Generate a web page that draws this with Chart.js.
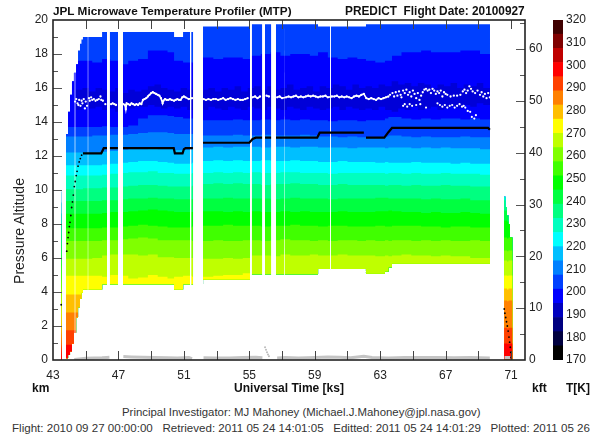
<!DOCTYPE html>
<html>
<head>
<meta charset="utf-8">
<title>JPL Microwave Temperature Profiler (MTP)</title>
<script src="https://cdn.jsdelivr.net/npm/chart.js@4"></script>
<style>
    body { margin: 0; background: #fff; }
    #page { position: relative; width: 590px; height: 438px; overflow: hidden; font-family: 'Liberation Sans', Arial, sans-serif; color: #222; }
    #page canvas { position: absolute; top: 0; }
    .label { position: absolute; white-space: pre; font-size: 12px; line-height: 14px; }
    .bold { font-weight: bold; color: #111; }
</style>
</head>
<body>
<div id="page">
    <canvas id="curtain" width="548" height="400" style="left:0"></canvas>
    <canvas id="colorbar" width="42" height="400" style="left:548px"></canvas>
    <div class="label bold" style="left:53px;top:4px;font-size:11.75px">JPL Microwave Temperature Profiler (MTP)</div>
    <div class="label bold" style="left:345px;top:4px;font-size:11.85px">PREDICT  Flight Date: 20100927</div>
    <div class="label" style="left:19px;top:231px;font-size:14px;transform:translate(-50%,-50%) rotate(-90deg)">Pressure Altitude</div>
    <div class="label bold" style="left:32px;top:381px">km</div>
    <div class="label bold" style="left:532px;top:381px">kft</div>
    <div class="label bold" style="left:566px;top:381px">T[K]</div>
    <div class="label" style="left:122px;top:405px;color:#333;font-size:11.4px">Principal Investigator: MJ Mahoney (Michael.J.Mahoney@jpl.nasa.gov)</div>
    <div class="label" style="left:12px;top:421px;color:#333;font-size:11.57px">Flight: 2010 09 27 00:00:00   Retrieved: 2011 05 24 14:01:05   Editted: 2011 05 24 14:01:29   Plotted: 2011 05 26</div>
</div>
<script>
// Axis ticks
const timeLabels = [43, 47, 51, 55, 59, 63, 67, 71];
const timeTicks = [45, 47, 49, 51, 53, 55, 57, 59, 61, 63, 65, 67, 69, 71];
const kmMajor = [2, 4, 6, 8, 10, 12, 14, 16, 18];
const kmMinor = [1, 3, 5, 7, 9, 11, 13, 15, 17, 19];
const kftMajor = [10, 20, 30, 40, 50, 60];
const kftMinor = [5, 15, 25, 35, 45, 55, 65];

// Colour bar
const tempEdges = [170, 176.25, 182.5, 188.75, 195, 201.25, 207.5, 213.75, 220, 226.25, 232.5, 238.75,
    245, 251.25, 257.5, 263.75, 270, 276.25, 282.5, 288.75, 295, 301.25, 307.5, 313.75, 320];
const tempColors = ['#000000', '#00003f', '#000080', '#0000bf', '#0000ff', '#0040ff', '#0080ff', '#00bfff',
    '#00ffff', '#00ffbf', '#00ff80', '#00ff40', '#00ff00', '#40ff00', '#80ff00', '#bfff00',
    '#ffff00', '#ffbf00', '#ff8000', '#ff4000', '#ff0000', '#bf0000', '#800000', '#3f0000'];

// Curtain columns: strip + gap + climb (11), cruise (44), gap + descent (5 + 1), last entry closes the last column
const colTimes = [43.49, 43.55, 43.79, 43.92, 44.04, 44.16, 44.28, 44.41, 44.53, 44.65, 44.74,
    44.83, 45.4, 46.0, 46.5, 47.0, 47.6, 48.2, 48.8, 49.4, 50.0, 50.4, 50.95, 51.5,
    52.17, 52.8, 53.4, 54.0, 54.6,
    55.1, 55.7, 56.3, 56.9, 57.5, 58.1, 58.7,
    59.2, 59.8, 60.4, 61.0, 61.6,
    62.13, 62.7, 63.29, 63.5, 63.72,
    64.3, 64.9, 65.5, 66.1, 66.7, 67.3, 67.9, 68.5, 69.1,
    69.71, 70.57, 70.66, 70.75, 70.84, 70.93, 71.09];

const curtainBottom = [0.03, null, 0.1, 0.3, 0.5, 0.95, 1.6, 2.5, 3.1, 3.6, 3.95,
    4.15, 4.15, 4.45, 4.45, 4.45, 4.45, 4.45, 4.45, 4.45, 4.45, 4.15, 4.45, 4.45,
    4.73, 4.73, 4.73, 4.73, 4.73,
    5.05, 5.05, 5.05, 5.05, 5.05, 5.05, 5.05,
    5.35, 5.35, 5.35, 5.35, 5.35,
    5.08, 5.08, 5.2, 5.45, 5.66,
    5.66, 5.66, 5.66, 5.66, 5.66, 5.66, 5.66, 5.66, 5.66,
    null, 0.05, 0.05, 0.05, 0.05, 0.05];

const curtainTop = [10.1, null, 13.3, 14.6, 15.6, 16.4, 16.9, 17.4, 18.2, 18.6, 18.85,
    19.0, 19.0, 19.3, 19.3, 19.3, 19.3, 19.3, 19.3, 19.3, 19.3, 19.0, 19.3, 19.3,
    19.62, 19.62, 19.62, 19.62, 19.62,
    19.75, 19.75, 19.75, 19.75, 19.75, 19.75, 19.75,
    19.62, 19.62, 19.62, 19.62, 19.62,
    19.75, 19.75, 19.75, 19.75, 19.75,
    19.75, 19.75, 19.75, 19.75, 19.75, 19.75, 19.75, 19.75, 19.75,
    null, 9.6, 9.0, 8.5, 8.0, 7.2];

// Top edge of each temperature band, km
const redTop = [0.9, 0, 0.9, 0.9, 0.9, 0.9, 0.9, 0.9, 0.9, 0.9, 0.9,
    0, 0, 0, 0, 0, 0, 0, 0, 0, 0, 0, 0, 0,
    0, 0, 0, 0, 0,
    0, 0, 0, 0, 0, 0, 0,
    0, 0, 0, 0, 0,
    0, 0, 0, 0, 0,
    0, 0, 0, 0, 0, 0, 0, 0, 0,
    0, 0.97, 0.97, 0.95, 0.95, 0.97];
const flameTop = [1.75, 0, 1.75, 1.75, 1.75, 1.75, 1.75, 1.75, 1.75, 1.75, 1.75,
    0, 0, 0, 0, 0, 0, 0, 0, 0, 0, 0, 0, 0,
    0, 0, 0, 0, 0,
    0, 0, 0, 0, 0, 0, 0,
    0, 0, 0, 0, 0,
    0, 0, 0, 0, 0,
    0, 0, 0, 0, 0, 0, 0, 0, 0,
    0, 1.9, 1.9, 1.85, 1.9, 1.9];
const orangeTop = [2.8, 0, 2.8, 2.8, 2.8, 2.8, 2.8, 2.8, 2.8, 2.8, 2.8,
    0, 0, 0, 0, 0, 0, 0, 0, 0, 0, 0, 0, 0,
    0, 0, 0, 0, 0,
    0, 0, 0, 0, 0, 0, 0,
    0, 0, 0, 0, 0,
    0, 0, 0, 0, 0,
    0, 0, 0, 0, 0, 0, 0, 0, 0,
    0, 3.5, 3.5, 3.45, 3.5, 3.5];
const amberTop = [3.85, 0, 3.85, 3.85, 3.85, 3.85, 3.85, 3.85, 3.85, 3.85, 3.85,
    0, 0, 0, 0, 0, 0, 0, 0, 0, 0, 0, 0, 0,
    0, 0, 0, 0, 0,
    0, 0, 0, 0, 0, 0, 0,
    0, 0, 0, 0, 0,
    0, 0, 0, 0, 0,
    0, 0, 0, 0, 0, 0, 0, 0, 0,
    0, 4.2, 4.2, 4.15, 4.2, 4.2];
const yellowTop = [4.9, 0, 4.95, 4.95, 4.95, 4.95, 4.95, 4.95, 4.95, 4.95, 4.95,
    4.95, 4.95, 4.9, 5.0, 4.95, 4.8, 4.85, 5.0, 4.9, 4.8, 4.9, 4.95, 4.9,
    4.9, 4.95, 5.0, 5.0, 5.1,
    0, 0, 0, 0, 0, 0, 0,
    0, 0, 0, 0, 0,
    0, 0, 0, 0, 0,
    0, 0, 0, 0, 0, 0, 0, 0, 0,
    0, 4.97, 4.97, 4.95, 4.97, 4.97];
const limeTop = [5.9, 0, 5.95, 5.95, 5.95, 5.95, 5.95, 5.95, 5.95, 5.95, 5.95,
    5.95, 6.0, 6.15, 6.2, 6.2, 6.2, 6.15, 6.2, 6.05, 6.05, 6.0, 6.0, 6.0,
    5.95, 5.95, 6.0, 5.95, 6.0,
    6.15, 6.15, 6.1, 6.2, 6.15, 6.15, 6.2,
    6.15, 6.15, 6.2, 6.15, 6.15,
    6.15, 6.1, 6.15, 6.1, 6.15,
    6.2, 6.15, 6.15, 6.1, 6.15, 6.1, 6.1, 6.0, 6.0,
    0, 5.85, 5.85, 5.8, 5.85, 5.85];
const chartreuseTop = [7.0, 0, 7.0, 7.0, 7.0, 7.0, 7.0, 7.0, 7.0, 7.0, 7.0,
    7.0, 7.0, 7.05, 7.05, 7.1, 7.15, 7.2, 7.15, 7.05, 7.05, 7.05, 7.05, 7.0,
    7.0, 7.05, 7.0, 7.0, 7.05,
    7.05, 7.0, 7.05, 7.1, 7.05, 7.05, 7.0,
    7.05, 7.0, 7.05, 7.05, 7.0,
    7.05, 7.0, 7.05, 7.0, 7.05,
    7.05, 7.0, 7.05, 7.0, 7.05, 7.0, 7.0, 7.05, 7.0,
    0, 6.44, 6.44, 6.4, 6.44, 6.44];
const leafTop = [7.75, 0, 7.75, 7.75, 7.75, 7.75, 7.75, 7.75, 7.75, 7.75, 7.75,
    7.75, 7.75, 7.8, 7.8, 7.85, 7.9, 7.95, 7.9, 7.85, 7.8, 7.8, 7.8, 7.85,
    7.9, 7.9, 7.95, 7.9, 7.9,
    7.9, 7.85, 7.9, 7.9, 7.95, 7.9, 7.9,
    7.85, 7.9, 7.9, 7.85, 7.85,
    7.85, 7.9, 7.85, 7.85, 7.9,
    7.9, 7.9, 7.85, 7.85, 7.8, 7.85, 7.85, 7.8, 7.8,
    0, 7.2, 7.2, 7.15, 7.2, 7.2];
const greenTop = [8.6, 0, 8.6, 8.6, 8.6, 8.6, 8.6, 8.6, 8.6, 8.6, 8.6,
    8.6, 8.6, 8.65, 8.7, 8.7, 8.75, 8.8, 8.85, 8.8, 8.75, 8.7, 8.7, 8.7,
    8.75, 8.75, 8.7, 8.75, 8.7,
    8.75, 8.7, 8.7, 8.75, 8.7, 8.75, 8.7,
    8.7, 8.7, 8.75, 8.7, 8.7,
    8.7, 8.75, 8.75, 8.8, 8.75,
    8.7, 8.7, 8.65, 8.7, 8.65, 8.65, 8.7, 8.65, 8.6,
    0, 8.2, 8.2, 8.15, 8.2, 8.2];
const springTop = [9.35, 0, 9.35, 9.35, 9.35, 9.35, 9.35, 9.35, 9.35, 9.35, 9.35,
    9.35, 9.35, 9.4, 9.4, 9.45, 9.5, 9.5, 9.55, 9.5, 9.5, 9.45, 9.45, 9.45,
    9.5, 9.5, 9.55, 9.5, 9.5,
    9.5, 9.5, 9.45, 9.5, 9.55, 9.5, 9.5,
    9.5, 9.45, 9.5, 9.5, 9.5,
    9.5, 9.55, 9.55, 9.5, 9.5,
    9.5, 9.5, 9.45, 9.5, 9.45, 9.45, 9.5, 9.4, 9.4,
    0, 8.8, 8.8, 8.75, 8.8, 8.8];
const mintTop = [10.05, 0, 10.05, 10.05, 10.05, 10.05, 10.05, 10.05, 10.05, 10.05, 10.05,
    10.1, 10.1, 10.15, 10.15, 10.2, 10.25, 10.3, 10.3, 10.25, 10.2, 10.2, 10.2, 10.25,
    10.35, 10.4, 10.35, 10.4, 10.35,
    10.35, 10.3, 10.35, 10.35, 10.4, 10.35, 10.35,
    10.3, 10.3, 10.35, 10.3, 10.3,
    10.3, 10.3, 10.25, 10.3, 10.3,
    10.25, 10.3, 10.25, 10.25, 10.3, 10.25, 10.25, 10.2, 10.2,
    0, 9.4, 9.4, 9.35, 9.4, 9.4];
const aquaTop = [10.85, 0, 10.85, 10.85, 10.85, 10.85, 10.85, 10.85, 10.85, 10.85, 10.85,
    10.85, 10.85, 10.9, 10.95, 11.0, 11.05, 11.05, 11.1, 11.0, 11.0, 10.95, 10.95, 11.0,
    11.0, 11.05, 11.0, 11.05, 11.0,
    11.05, 11.0, 11.0, 11.05, 11.05, 11.0, 11.0,
    11.0, 10.95, 11.0, 11.0, 11.0,
    11.0, 11.0, 10.95, 11.0, 11.0,
    10.95, 11.0, 10.95, 10.95, 11.0, 10.95, 10.95, 10.95, 10.9,
    0, 10.85, 10.85, 10.85, 10.85, 10.85];
const cyanTop = [11.45, 0, 11.45, 11.45, 11.45, 11.45, 11.45, 11.45, 11.45, 11.45, 11.45,
    11.45, 11.45, 11.5, 11.55, 11.6, 11.65, 11.7, 11.7, 11.65, 11.6, 11.55, 11.55, 11.6,
    11.7, 11.75, 11.7, 11.75, 11.7,
    11.7, 11.75, 11.7, 11.7, 11.75, 11.7, 11.7,
    11.65, 11.65, 11.7, 11.65, 11.65,
    11.65, 11.6, 11.65, 11.6, 11.6,
    11.6, 11.65, 11.6, 11.6, 11.6, 11.55, 11.6, 11.55, 11.55,
    0, 11.45, 11.45, 11.45, 11.45, 11.45];
const skyTop = [12.2, 0, 12.2, 12.2, 12.2, 12.2, 12.2, 12.2, 12.2, 12.2, 12.2,
    12.2, 12.2, 12.25, 12.3, 12.35, 12.4, 12.4, 12.45, 12.4, 12.4, 12.35, 12.35, 12.4,
    12.5, 12.55, 12.5, 12.55, 12.55,
    12.55, 12.5, 12.55, 12.55, 12.5, 12.55, 12.55,
    12.5, 12.5, 12.5, 12.45, 12.5,
    12.5, 12.5, 12.45, 12.5, 12.5,
    12.5, 12.45, 12.5, 12.45, 12.5, 12.45, 12.45, 12.45, 12.4,
    0, 12.2, 12.2, 12.2, 12.2, 12.2];
const azureTop = [13.15, 0, 13.15, 13.15, 13.15, 13.15, 13.15, 13.15, 13.15, 13.15, 13.15,
    13.15, 13.2, 13.2, 13.25, 13.25, 13.3, 13.35, 13.4, 13.4, 13.35, 13.3, 13.3, 13.3,
    13.2, 13.2, 13.2, 13.25, 13.2,
    13.2, 13.25, 13.2, 13.2, 13.2, 13.25, 13.2,
    13.15, 13.15, 13.1, 13.15, 13.1,
    13.1, 13.1, 13.15, 13.2, 13.2,
    13.15, 13.1, 13.15, 13.1, 13.1, 13.1, 13.15, 13.1, 13.1,
    0, 13.15, 13.15, 13.15, 13.15, 13.15];
const royalTop = [13.7, 0, 13.7, 13.7, 13.7, 13.7, 13.7, 13.7, 13.7, 13.7, 13.7,
    13.7, 13.7, 13.75, 13.7, 13.7, 13.8, 14.2, 14.4, 14.4, 14.35, 14.3, 14.2, 14.2,
    14.1, 14.1, 14.1, 14.15, 14.1,
    14.1, 14.15, 14.1, 14.15, 14.1, 14.15, 14.1,
    14.1, 14.05, 14.1, 14.1, 14.05,
    14.1, 14.1, 14.2, 14.3, 14.3,
    14.2, 14.15, 14.2, 14.15, 14.2, 14.2, 14.15, 14.2, 14.15,
    0, 13.7, 13.7, 13.7, 13.7, 13.7];
const blueTop = [17.6, 0, 17.6, 17.6, 17.6, 17.6, 17.6, 17.6, 17.6, 17.6, 17.6,
    17.6, 17.5, 17.7, 17.6, 17.4, 17.6, 17.7, 18.2, 18.2, 18.1, 17.6, 17.5, 17.5,
    17.8, 17.7, 17.8, 17.8, 17.7,
    17.9, 18.0, 18.1, 17.9, 18.0, 18.0, 17.9,
    18.1, 17.8, 17.7, 17.8, 17.7,
    17.6, 17.5, 17.6, 17.6, 17.9,
    18.1, 18.1, 18.2, 18.1, 18.1, 18.1, 18.2, 18.2, 18.0,
    0, 17.6, 17.6, 17.6, 17.6, 17.6];

// Band tops from warm to cold, the last band reaches the curtain top
const bandTops = [redTop, flameTop, orangeTop, amberTop, yellowTop, limeTop, chartreuseTop, leafTop, greenTop,
    springTop, mintTop, aquaTop, cyanTop, skyTop, azureTop, royalTop, blueTop, curtainTop];
const bandColors = ['#ff0000', '#ff4000', '#ff8000', '#ffbf00', '#ffff00', '#bfff00', '#80ff00', '#40ff00', '#00ff00',
    '#00ff40', '#00ff80', '#00ffbf', '#00ffff', '#00bfff', '#0080ff', '#0040ff', '#0000ff', '#0040ff'];

// Colder patches around the tropopause
const coldTimes = [44.4, 44.8, 45.2, 45.6, 46.0, 46.4, 46.8, 47.2, 47.6, 48.0,
    48.4, 48.8, 49.2, 49.6, 50.0, 50.4, 50.8, 51.2, 51.6, 52.2,
    52.5, 52.9, 53.3, 53.7, 54.1, 54.5, 54.9, 55.3, 55.7, 56.1,
    56.5, 56.9, 57.3, 57.7, 58.1, 58.5, 58.9, 59.3, 59.7, 60.1,
    60.5, 60.9, 61.3, 61.7, 62.1, 62.5, 62.9, 63.3, 63.7, 64.1,
    64.5, 64.9, 65.3, 65.7, 66.1, 66.5, 66.9, 67.3, 67.7, 68.1,
    68.5, 68.9, 69.3, 69.71];
const coldTop = [15.9, 16.0, 15.8, 16.0, 15.9, 15.8, 16.0, 15.7, 15.9, 15.8,
    15.9, 16.1, 16.2, 16.0, 15.9, 15.8, 16.0, 15.9, 15.8, 15.9,
    16.0, 15.8, 16.0, 15.9, 16.1, 15.8, 16.0, 16.1, 15.9, 16.1,
    15.9, 16.0, 16.2, 15.9, 16.0, 16.1, 15.8, 16.1, 16.0, 16.2,
    16.1, 15.9, 16.2, 16.0, 16.1, 16.0, 16.2, 16.1, 16.4, 16.2,
    16.3, 16.1, 16.3, 16.2, 16.0, 16.2, 16.1, 16.3, 16.0, 16.2,
    16.1, 16.3, 16.0];
const coldBottom = [14.7, 14.9, 14.8, 14.9, 14.7, 14.8, 14.6, 14.9, 14.8, 14.9,
    14.9, 15.0, 14.9, 14.8, 14.9, 14.8, 14.9, 14.7, 14.8, 14.7,
    14.9, 14.8, 14.7, 14.9, 14.8, 14.7, 14.9, 14.8, 14.7, 14.9,
    14.8, 14.7, 14.9, 14.8, 14.7, 14.9, 14.8, 14.7, 14.8, 14.9,
    14.7, 14.9, 14.8, 14.7, 14.8, 14.7, 14.9, 14.7, 14.6, 14.8,
    14.7, 14.9, 14.7, 14.8, 14.9, 14.7, 14.8, 14.9, 14.8, 15.0,
    14.9, 15.1, 15.0];

// Data dropouts
const gapStart = [44.31, 45.11, 46.30, 46.97, 51.37, 51.56, 55.04, 55.78, 56.33, 57.12, 59.93];
const gapEnd = [44.38, 45.17, 46.48, 47.28, 51.47, 52.17, 55.16, 55.96, 56.63, 57.18, 59.99];

// Tropopause
const tropoTimes = [44.35, 44.42, 44.5, 44.55, 44.6, 44.68, 44.75, 44.8, 44.88, 44.95,
    45.0, 45.08, 45.2, 45.25, 45.33, 45.4, 45.5, 45.6, 45.7, 45.8,
    45.9, 45.95, 46.05, 46.2, 46.55, 46.65, 46.75, 46.85, 47.3, 47.4,
    47.45, 47.5, 47.6, 47.7, 47.8, 47.9, 48.0, 48.1, 48.2, 48.3,
    48.4, 48.5, 48.6, 48.7, 48.8, 48.9, 49.0, 49.1, 49.2, 49.3,
    49.4, 49.5, 49.6, 49.7, 49.75, 49.85, 49.95, 50.05, 50.15, 50.25,
    50.4, 50.5, 50.6, 50.7, 50.8, 50.9, 51.0, 51.1, 51.3, 51.5,
    52.2, 52.35, 52.5, 52.65, 52.8, 52.95, 53.1, 53.25, 53.4, 53.55,
    53.7, 53.85, 54.0, 54.15, 54.3, 54.45, 54.6, 54.75, 54.9, 55.2,
    55.35, 55.5, 55.65, 56.05, 56.2, 56.7, 56.85, 57.0, 57.25, 57.4,
    57.55, 57.7, 57.85, 58.0, 58.15, 58.3, 58.45, 58.6, 58.75, 58.9,
    59.05, 59.2, 59.35, 59.5, 59.65, 59.8, 60.05, 60.2, 60.35, 60.5,
    60.65, 60.8, 60.95, 61.1, 61.25, 61.4, 61.55, 61.7, 61.85, 62.0,
    62.15, 62.3, 62.45, 62.6, 62.75, 62.9, 63.05, 63.2, 63.35, 63.5,
    63.6, 63.75, 63.85, 63.95, 64.05, 64.15, 64.25, 64.3, 64.4, 64.5,
    64.6, 64.7, 64.8, 64.9, 65.0, 65.1, 65.2, 65.3, 65.4, 65.5,
    65.6, 65.7, 65.8, 65.9, 66.0, 66.1, 66.2, 66.3, 66.4, 66.5,
    66.6, 66.7, 66.8, 66.9, 67.0, 67.1, 67.3, 67.5, 67.7, 67.9,
    68.05, 68.15, 68.25, 68.35, 68.45, 68.55, 68.65, 68.8, 68.95, 69.1,
    69.2, 69.3, 69.4, 69.5, 69.6, 69.7];
const tropoAlts = [15.2, 15.35, 15.1, 15.0, 15.3, 14.95, 15.25, 15.1, 15.35, 14.8,
    15.2, 14.95, 15.4, 15.25, 15.45, 15.3, 15.35, 15.25, 15.3, 15.35,
    15.5, 15.3, 15.25, 15.05, 15.05, 15.1, 15.05, 15.0, 15.05, 15.0,
    14.75, 15.1, 15.05, 15.0, 15.1, 15.05, 15.0, 15.05, 15.0, 15.1,
    15.05, 15.3, 15.35, 15.4, 15.5, 15.6, 15.7, 15.75, 15.7, 15.65,
    15.6, 15.55, 15.4, 15.1, 15.25, 15.35, 15.3, 15.3, 15.35, 15.3,
    15.25, 15.3, 15.35, 15.3, 15.3, 15.45, 15.5, 15.45, 15.35, 15.4,
    15.35, 15.3, 15.35, 15.3, 15.35, 15.35, 15.3, 15.35, 15.4, 15.3,
    15.35, 15.4, 15.35, 15.3, 15.35, 15.3, 15.3, 15.35, 15.4, 15.45,
    15.5, 15.4, 15.5, 15.55, 15.5, 15.45, 15.5, 15.4, 15.45, 15.5,
    15.45, 15.5, 15.55, 15.45, 15.5, 15.45, 15.5, 15.55, 15.5, 15.55,
    15.5, 15.45, 15.5, 15.5, 15.55, 15.45, 15.5, 15.5, 15.55, 15.45,
    15.5, 15.45, 15.5, 15.45, 15.4, 15.5, 15.55, 15.5, 15.6, 15.65,
    15.4, 15.35, 15.4, 15.35, 15.3, 15.4, 15.35, 15.4, 15.45, 15.5,
    15.6, 15.7, 15.5, 15.75, 15.55, 15.8, 15.6, 15.45, 15.85, 15.7,
    15.9, 15.6, 15.75, 15.5, 15.85, 15.65, 15.4, 15.7, 15.3, 15.55,
    15.75, 15.9, 15.95, 15.85, 15.9, 15.7, 15.95, 15.85, 15.65, 15.8,
    15.7, 15.85, 15.5, 15.75, 15.65, 15.6, 15.5, 15.55, 15.55, 15.6,
    15.8, 15.9, 15.7, 15.85, 16.1, 15.95, 15.8, 15.7, 15.85, 15.6,
    15.75, 15.5, 15.65, 15.4, 15.7, 15.45];
const lowerTropoTimes = [64.4, 64.5, 64.65, 64.8, 64.95, 65.2, 65.45, 65.8, 66.5, 66.65,
    66.8, 66.95, 67.1, 67.25, 67.4, 67.55, 67.7, 67.85, 68.0, 68.1,
    68.2, 68.35, 68.5, 68.6, 68.75, 68.85];
const lowerTropoAlts = [14.95, 15.05, 14.9, 15.05, 14.95, 15.0, 15.05, 14.85, 15.1, 15.0,
    14.9, 15.0, 14.85, 14.95, 15.0, 14.85, 14.95, 15.05, 14.9, 14.95,
    14.85, 14.65, 14.6, 14.3, 14.2, 14.4];

// Aircraft altitude
const cruiseTimes = [44.83, 45.95, 46.1, 46.3, 46.4, 46.48, 46.97, 47.1, 47.28, 50.38, 50.45, 50.92, 51.0, 51.1, 51.55, 51.8,
    52.17, 55.0, 55.2, 55.4, 55.78, 55.85, 55.96, 56.33, 56.45, 56.63, 59.15, 59.3, 62.0, 62.05,
    62.13, 63.25, 63.5, 63.72, 69.6, 69.7];
const cruiseAlts = [12.16, 12.16, 12.46, 12.46, null, 12.46, 12.46, null, 12.46, 12.46, 12.16, 12.16, 12.4, 12.46, 12.46, null,
    12.78, 12.78, 13.0, 13.08, 13.08, null, 13.08, 13.08, null, 13.08, 13.08, 13.37, 13.37, null,
    13.08, 13.08, 13.4, 13.65, 13.65, 13.55];
const climbTimes = [43.5, 43.84, 43.88, 43.92, 43.96, 44.0, 44.04, 44.09, 44.14, 44.19, 44.24, 44.3, 44.36, 44.42, 44.47, 44.53, 44.6, 44.67, 44.75];
const climbAlts = [3.25, 6.4, 6.85, 7.2, 7.5, 7.85, 8.1, 8.5, 8.97, 9.3, 9.7, 10.2, 10.5, 10.85, 11.1, 11.4, 11.65, 11.85, 12.05];
const descentTimes = [70.58, 70.62, 70.67, 70.72, 70.77, 70.82, 70.87, 70.91, 70.95, 70.98, 71.0];
const descentAlts = [3.0, 2.75, 2.5, 2.25, 2.0, 1.7, 1.35, 1.05, 0.75, 0.45, 0.15];

// Ground track
const groundTimes = [44.3, 44.6, 45.0, 45.5, 46.0, 46.3, 46.45, 46.6, 47.3, 47.8, 48.5, 49.2, 50.0, 50.6, 51.3, 51.5, 51.6,
    52.2, 53.0, 53.8, 54.6, 55.4, 55.8, 55.9, 56.3, 56.35,
    56.7, 57.2, 58.0, 59.0, 59.8, 60.5, 61.2, 62.0, 62.5, 63.5, 64.5, 65.5, 66.5, 67.5, 68.5, 69.7, 69.8, 70.6, 70.95];
const groundAlts = [0.03, 0.06, 0.1, 0.12, 0.13, 0.15, 0.16, null, 0.2, 0.18, 0.16, 0.14, 0.13, 0.12, 0.15, 0.08, null,
    0.13, 0.12, 0.12, 0.15, 0.16, 0.13, null, 0.12, null,
    0.12, 0.14, 0.12, 0.15, 0.18, 0.16, 0.13, 0.22, 0.15, 0.12, 0.14, 0.15, 0.14, 0.13, 0.15, 0.12, null, 0.15, 0.15];
const groundSpikeTimes = [55.96, 56.02, 56.08, 56.14, 56.2];
const groundSpikeAlts = [0.75, 0.6, 0.45, 0.32, 0.22];

// Column values become two points so each column keeps a flat top
function buildColumns(times, values, low, high) {
    const points = [];
    values.forEach((value, i) => {
        if (low && low[i] === null) {
            points.push({ x: times[i], y: null });
            return;
        }
        let y = value;
        if (high) y = Math.min(y, high[i]);
        if (low) y = Math.max(y, low[i]);
        points.push({ x: times[i], y: y }, { x: times[i + 1], y: y });
    });
    return points;
}

function toPoints(times, values) {
    return times.map((t, i) => ({ x: t, y: values[i] }));
}

function flatLine(points, extra) {
    return Object.assign({ data: points, borderWidth: 0, pointRadius: 0, tension: 0, spanGaps: false, fill: false }, extra);
}

function buildGapPoints() {
    const points = [];
    gapStart.forEach((start, i) => {
        points.push({ x: start, y: 20 }, { x: gapEnd[i], y: 20 }, { x: gapEnd[i] + 0.001, y: null });
    });
    return points;
}

function dots(times, values, color, radius) {
    return { data: toPoints(times, values), showLine: false, pointRadius: radius, pointBackgroundColor: color, pointBorderWidth: 0 };
}

// Frame and inward tick marks
const frameTicks = {
    id: 'frameTicks',
    afterDraw(chart) {
        const { ctx, chartArea: area, scales } = chart;
        const mark = (x1, y1, x2, y2, color, width) => {
            ctx.strokeStyle = color;
            ctx.lineWidth = width;
            ctx.beginPath();
            ctx.moveTo(x1, y1);
            ctx.lineTo(x2, y2);
            ctx.stroke();
        };
        ctx.save();
        kmMajor.forEach(v => { const y = Math.round(scales.y.getPixelForValue(v)) + 0.5; mark(area.left, y, area.left + 9, y, '#555', 1); });
        kmMinor.forEach(v => { const y = Math.round(scales.y.getPixelForValue(v)) + 0.5; mark(area.left, y, area.left + 5, y, '#555', 1); });
        kftMajor.forEach(v => { const y = Math.round(scales.y2.getPixelForValue(v)) + 0.5; mark(area.right, y, area.right - 9, y, '#555', 1); });
        kftMinor.forEach(v => { const y = Math.round(scales.y2.getPixelForValue(v)) + 0.5; mark(area.right, y, area.right - 5, y, '#555', 1); });
        timeTicks.forEach(v => {
            const x = Math.round(scales.x.getPixelForValue(v)) + 0.5;
            mark(x, area.top, x, area.top + 9, '#444', 1);
            mark(x, area.bottom, x, area.bottom - 9, '#444', 1);
        });
        ctx.strokeStyle = '#222';
        ctx.lineWidth = 1.6;
        ctx.strokeRect(area.left, area.top, area.right - area.left, area.bottom - area.top);
        ctx.restore();
    }
};

function createCurtainChart() {
    const ctx = document.getElementById('curtain').getContext('2d');
    const datasets = [
        Object.assign(dots(climbTimes, climbAlts, '#000', 0.9), { label: 'Climb' }),
        Object.assign(dots(descentTimes, descentAlts, '#000', 0.9), { label: 'Descent' }),
        { label: 'Aircraft', data: toPoints(cruiseTimes, cruiseAlts), borderColor: '#000', borderWidth: 2.2, pointRadius: 0, tension: 0, spanGaps: false, fill: false },
        // the steady cruise stretch reads as a solid white trace, the noisy ends stay as dots
        Object.assign(dots(tropoTimes, tropoAlts, '#fff', 1.15), {
            label: 'Tropopause',
            showLine: true,
            borderWidth: 1.6,
            borderColor: '#fff',
            segment: {
                borderColor: c => (c.p0.parsed.x >= 46.5 && c.p1.parsed.x <= 63.5 && c.p1.parsed.x - c.p0.parsed.x < 0.3) ? '#fff' : 'transparent'
            }
        }),
        Object.assign(dots(lowerTropoTimes, lowerTropoAlts, '#fff', 1.1), { label: 'Lower tropopause' }),
        { label: 'Ground', data: toPoints(groundTimes, groundAlts), borderColor: '#c4c4c4', borderWidth: 3, pointRadius: 0, tension: 0, spanGaps: false, fill: false },
        Object.assign(dots(groundSpikeTimes, groundSpikeAlts, '#bbb', 1), { label: 'Ground spike' }),
        flatLine(buildGapPoints(), { label: 'Dropouts', fill: { value: 0 }, backgroundColor: '#fff' })
    ];

    const coldBottomIndex = datasets.length + 1;
    datasets.push(flatLine(buildColumns(coldTimes, coldTop), { label: 'Cold top', fill: coldBottomIndex, backgroundColor: '#0000d8' }));
    datasets.push(flatLine(buildColumns(coldTimes, coldBottom), { label: 'Cold bottom' }));

    // The higher datasets paint first, so every band fills down to the curtain bottom and the warmer one covers it
    const bottomIndex = datasets.length;
    datasets.push(flatLine(buildColumns(colTimes, curtainBottom), { label: 'Curtain bottom' }));
    bandTops.forEach((tops, i) => {
        datasets.push(flatLine(buildColumns(colTimes, tops, curtainBottom, curtainTop), {
            label: 'Band ' + i,
            fill: bottomIndex,
            backgroundColor: bandColors[i]
        }));
    });

    new Chart(ctx, {
        type: 'line',
        data: { datasets: datasets },
        plugins: [frameTicks],
        options: {
            responsive: false,
            animation: false,
            events: [],
            layout: { padding: { top: 20, left: 0, right: 0, bottom: 0 } },
            plugins: { legend: { display: false }, tooltip: { enabled: false } },
            scales: {
                x: {
                    type: 'linear',
                    min: 43,
                    max: 71.85,
                    afterBuildTicks: scale => { scale.ticks = timeLabels.map(v => ({ value: v })); },
                    afterFit: scale => { scale.height = 40; },
                    grid: { display: false, drawTicks: false },
                    border: { display: false },
                    ticks: { autoSkip: false, maxRotation: 0, padding: 8, color: '#222', font: { size: 12 } },
                    title: { display: true, text: 'Universal Time [ks]', color: '#111', font: { size: 12, weight: 'bold' }, padding: { top: 0, bottom: 4 } }
                },
                y: {
                    min: 0,
                    max: 20,
                    position: 'left',
                    afterFit: scale => { scale.width = 53; },
                    grid: { display: false, drawTicks: false },
                    border: { display: false },
                    ticks: { stepSize: 2, padding: 5, color: '#222', font: { size: 12 } }
                },
                y2: {
                    min: 0,
                    max: 65.62,
                    position: 'right',
                    afterBuildTicks: scale => { scale.ticks = [0].concat(kftMajor).map(v => ({ value: v })); },
                    afterFit: scale => { scale.width = 23; },
                    grid: { display: false, drawTicks: false },
                    border: { display: false },
                    ticks: { padding: 4, color: '#222', font: { size: 12 } }
                }
            }
        }
    });
}

function createColorBar() {
    const ctx = document.getElementById('colorbar').getContext('2d');
    new Chart(ctx, {
        type: 'bar',
        data: {
            labels: ['T'],
            datasets: tempColors.map((color, i) => ({
                data: [[tempEdges[i], tempEdges[i + 1]]],
                backgroundColor: color,
                borderWidth: 0
            }))
        },
        options: {
            responsive: false,
            animation: false,
            events: [],
            layout: { padding: { top: 20, left: 5, right: 0, bottom: 40 } },
            plugins: { legend: { display: false }, tooltip: { enabled: false } },
            datasets: { bar: { grouped: false, barPercentage: 1, categoryPercentage: 1 } },
            scales: {
                x: { display: false },
                y: {
                    position: 'right',
                    min: 170,
                    max: 320,
                    afterFit: scale => { scale.width = 27; },
                    grid: { display: false, drawTicks: false },
                    border: { display: false },
                    ticks: { stepSize: 10, autoSkip: false, padding: 3, color: '#222', font: { size: 12 } }
                }
            }
        }
    });
}

Chart.defaults.font.family = "'Liberation Sans', Arial, sans-serif";
createCurtainChart();
createColorBar();
</script>
</body>
</html>
